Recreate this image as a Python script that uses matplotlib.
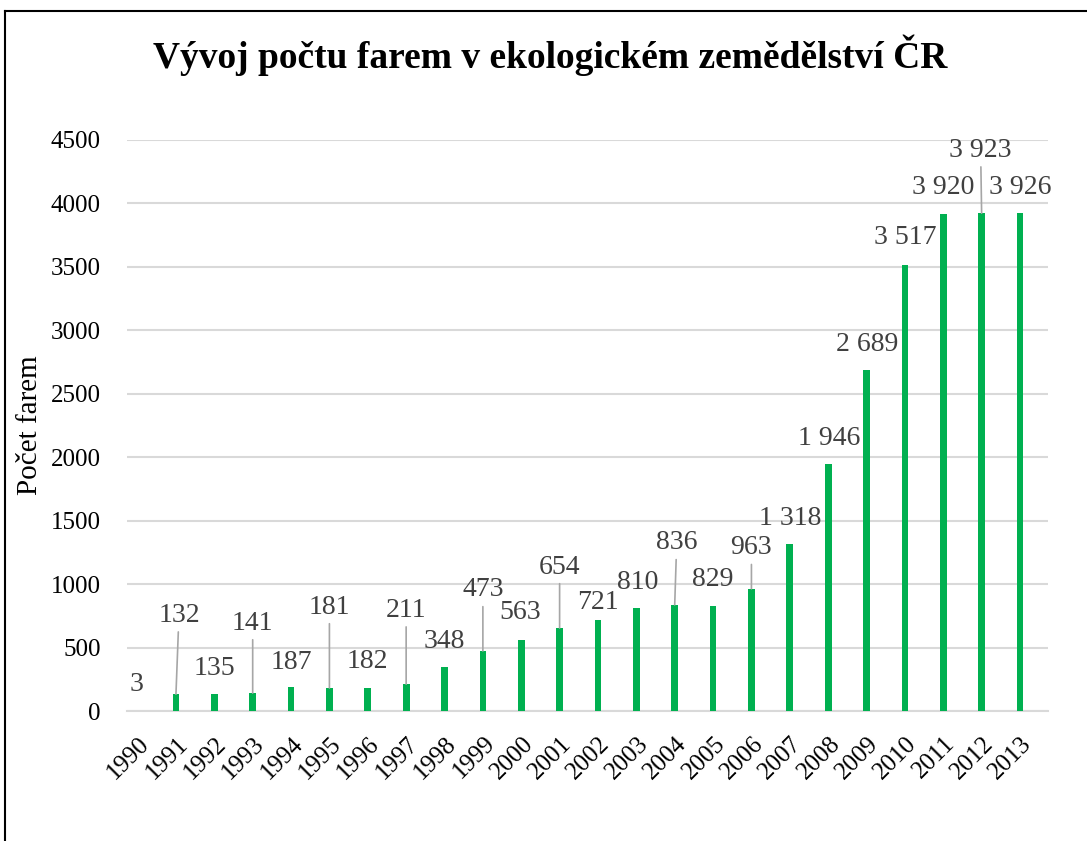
import numpy as np
import matplotlib.pyplot as plt
from matplotlib.lines import Line2D

# ============================== Data ==========================================
roky = ['1990', '1991', '1992', '1993', '1994', '1995', '1996', '1997', '1998',
        '1999', '2000', '2001', '2002', '2003', '2004', '2005', '2006', '2007',
        '2008', '2009', '2010', '2011', '2012', '2013']
farmy = [3, 132, 135, 141, 187, 181, 182, 211, 348, 473, 563, 654, 721, 810,
         836, 829, 963, 1318, 1946, 2689, 3517, 3920, 3923, 3926]

# label offsets above bar top (pixels) and which labels have leader lines
lab_dx = [-1, 3, 0, 0, 0, 0, 0, 0, 0, 0, -1, 0, 0, 1, 2, 0, 0, 0, 1, 1, 0, 0, -1, 0]
lab_dy = [26, 79, 25, 70, 25, 81, 26, 74, 25, 61, 27, 61, 17, 26, 62, 26, 41, 25,
          26, 25, 27, 26, 63, 25]
leader = [False, True, False, True, False, True, False, True, False, True, False,
          True, False, False, True, False, True, False, False, False, False, False,
          True, False]

def fmt(v):
    return '{:,}'.format(v).replace(',', ' ')

# ============================== Plot ==========================================
plt.rcParams['font.family'] = ['Liberation Serif', 'DejaVu Serif']

fig = plt.figure(figsize=(10.87, 8.41), dpi=100)
ax = fig.add_axes([127/1087, 130/841, 921/1087, 571/841])

x = np.arange(len(roky))
ax.bar(x, farmy, width=0.175, color='#00b050', zorder=3)

ax.set_xlim(-0.276, 23.73)
ax.set_ylim(0, 4500)
ax.set_yticks(np.arange(0, 4501, 500))
ax.yaxis.grid(True, color='#d9d9d9', lw=1.5, zorder=0)
ax.tick_params(axis='y', length=0, pad=19, labelsize=18)
ax.set_xticks(x + 0.22)
ax.set_xticklabels(roky, rotation=45, ha='right', va='center',
                   rotation_mode='anchor', fontsize=18)
ax.tick_params(axis='x', length=0, pad=21)
for s in ['top', 'right', 'left']:
    ax.spines[s].set_visible(False)
ax.spines['bottom'].set_color('#d9d9d9')
ax.spines['bottom'].set_linewidth(1.5)

for i, v in enumerate(farmy):
    kw = {}
    if leader[i]:
        kw['arrowprops'] = dict(arrowstyle='-', color='#a6a6a6', lw=1.2,
                                shrinkA=1, shrinkB=0)
    ax.annotate(fmt(v), xy=(x[i], v), xytext=(lab_dx[i]*0.72, lab_dy[i]*0.72),
                textcoords='offset points', ha='center', va='center',
                fontsize=20, color='#404040', zorder=4, **kw)

ax.set_ylabel('Počet farem', fontsize=21)
ax.yaxis.set_label_coords(-84/921, 0.5)
fig.text(550/1087, 1 - 55/841, 'Vývoj počtu farem v ekologickém zemědělství ČR',
         ha='center', va='center', fontsize=27, fontweight='bold')

# chart border (only left and top visible in the crop)
fig.add_artist(Line2D([5/1087, 5/1087], [0, 1 - 11/841], transform=fig.transFigure,
                      color='black', lw=1.5))
fig.add_artist(Line2D([5/1087, 1], [1 - 11/841, 1 - 11/841], transform=fig.transFigure,
                      color='black', lw=1.5))

plt.savefig('out.png', dpi=100)
